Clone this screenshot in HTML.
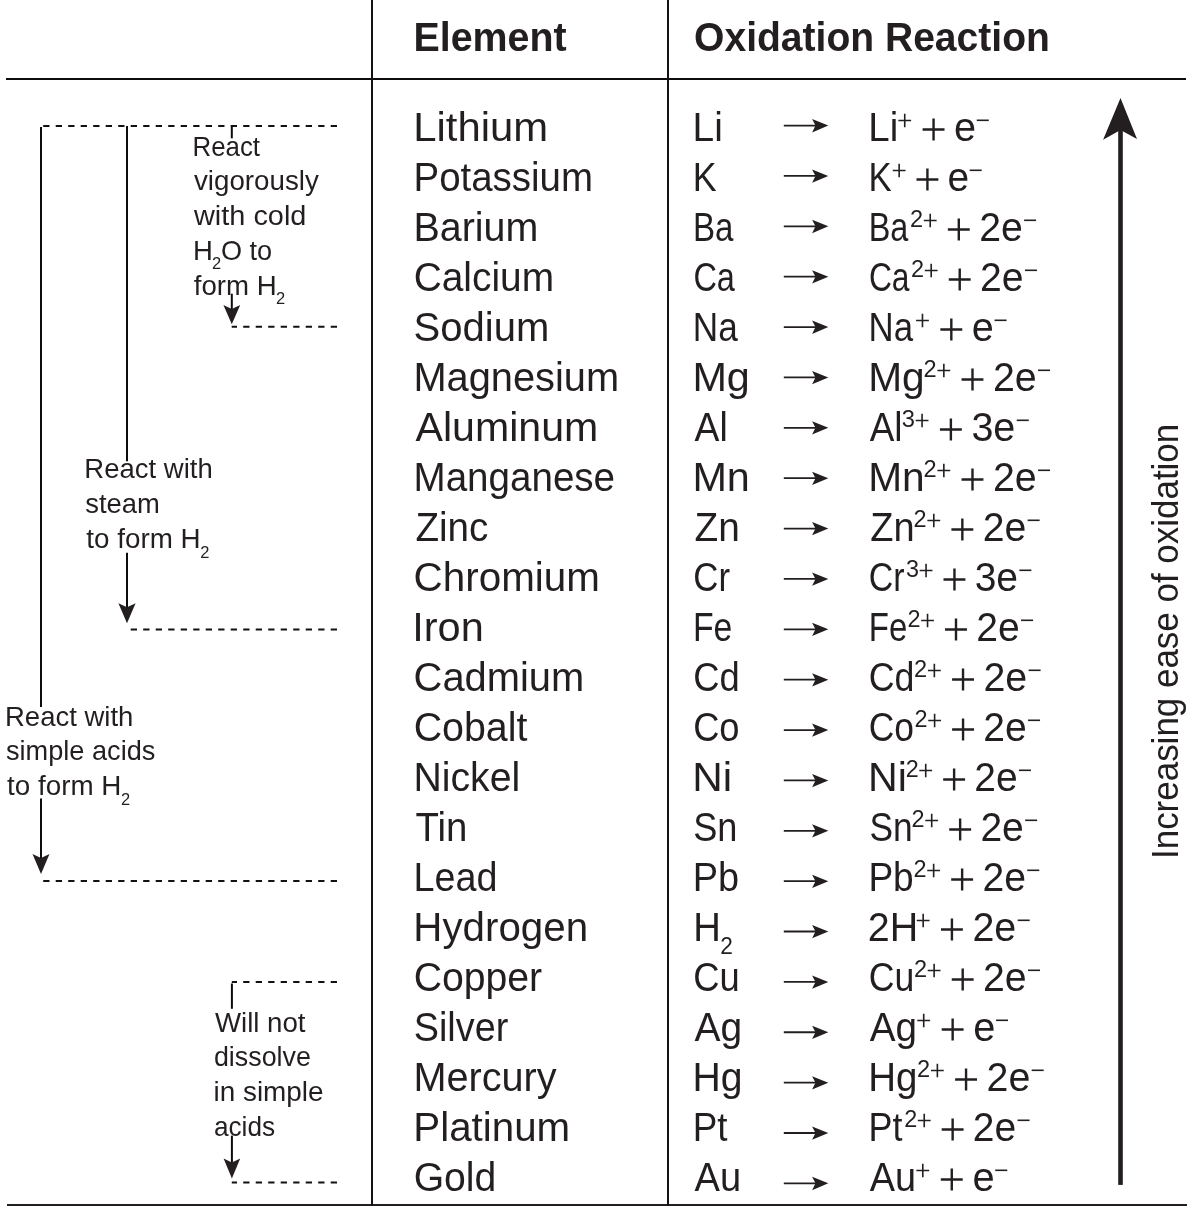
<!DOCTYPE html>
<html><head><meta charset="utf-8"><style>
html,body{margin:0;padding:0;background:#fff;width:1188px;height:1206px;overflow:hidden}
svg{display:block;will-change:transform}
text{font-family:'Liberation Sans', sans-serif;fill:#231f20}
</style></head><body>
<svg width="1188" height="1206" viewBox="0 0 1188 1206" font-size="40">
<rect x="6" y="78" width="1180" height="2" fill="#0f0c0d"/>
<rect x="7" y="1204" width="1180" height="2" fill="#231f20"/>
<rect x="371" y="0" width="2" height="1206" fill="#161213"/>
<rect x="667" y="0" width="2" height="1206" fill="#161213"/>
<text x="413.45" y="50.80" font-weight="bold" textLength="153.15" lengthAdjust="spacingAndGlyphs">Element</text>
<text x="694.05" y="51.00" font-weight="bold" textLength="355.79" lengthAdjust="spacingAndGlyphs">Oxidation Reaction</text>
<text x="413.26" y="140.70" textLength="134.82" lengthAdjust="spacingAndGlyphs">Lithium</text>
<text x="692.58" y="140.70" textLength="30.27" lengthAdjust="spacingAndGlyphs">Li</text>
<text x="868.32" y="140.70" textLength="29.94" lengthAdjust="spacingAndGlyphs">Li</text>
<path d="M898.33 120.50H911.13M904.73 113.85V127.15" stroke="#231f20" stroke-width="1.6" fill="none"/>
<path d="M922.61 129.50H944.51M933.56 118.55V140.45" stroke="#231f20" stroke-width="2.4" fill="none"/>
<text x="954.08" y="140.70" textLength="22.01" lengthAdjust="spacingAndGlyphs">e</text>
<path d="M976.77 120.30H988.77" stroke="#231f20" stroke-width="1.6" fill="none"/>
<path d="M783.8 125.60H816" stroke="#231f20" stroke-width="1.8" fill="none"/>
<path d="M828.3 125.60L812.1 119.10L815.5 125.60L812.1 132.40Z" fill="#231f20"/>
<text x="413.52" y="190.70" textLength="179.42" lengthAdjust="spacingAndGlyphs">Potassium</text>
<text x="692.81" y="190.70" textLength="23.90" lengthAdjust="spacingAndGlyphs">K</text>
<text x="868.59" y="190.70" textLength="23.19" lengthAdjust="spacingAndGlyphs">K</text>
<path d="M892.74 170.50H905.54M899.14 163.85V177.15" stroke="#231f20" stroke-width="1.6" fill="none"/>
<path d="M916.47 179.50H938.37M927.42 168.55V190.45" stroke="#231f20" stroke-width="2.4" fill="none"/>
<text x="947.55" y="190.70" textLength="21.58" lengthAdjust="spacingAndGlyphs">e</text>
<path d="M969.68 170.30H981.68" stroke="#231f20" stroke-width="1.6" fill="none"/>
<path d="M783.8 175.97H816" stroke="#231f20" stroke-width="1.8" fill="none"/>
<path d="M828.3 175.97L812.1 169.47L815.5 175.97L812.1 182.77Z" fill="#231f20"/>
<text x="413.44" y="240.70" textLength="124.82" lengthAdjust="spacingAndGlyphs">Barium</text>
<text x="693.02" y="240.70" textLength="40.43" lengthAdjust="spacingAndGlyphs">Ba</text>
<text x="868.77" y="240.70" textLength="39.63" lengthAdjust="spacingAndGlyphs">Ba</text>
<text x="910.02" y="226.90" font-size="24" textLength="13.10" lengthAdjust="spacingAndGlyphs">2</text>
<path d="M923.82 220.50H936.62M930.22 213.85V227.15" stroke="#231f20" stroke-width="1.6" fill="none"/>
<path d="M947.85 229.50H969.75M958.80 218.55V240.45" stroke="#231f20" stroke-width="2.4" fill="none"/>
<text x="979.14" y="240.70" textLength="43.63" lengthAdjust="spacingAndGlyphs">2e</text>
<path d="M1024.12 220.30H1036.12" stroke="#231f20" stroke-width="1.6" fill="none"/>
<path d="M783.8 226.34H816" stroke="#231f20" stroke-width="1.8" fill="none"/>
<path d="M828.3 226.34L812.1 219.84L815.5 226.34L812.1 233.14Z" fill="#231f20"/>
<text x="413.66" y="290.70" textLength="140.46" lengthAdjust="spacingAndGlyphs">Calcium</text>
<text x="693.38" y="290.70" textLength="41.54" lengthAdjust="spacingAndGlyphs">Ca</text>
<text x="868.91" y="290.70" textLength="40.66" lengthAdjust="spacingAndGlyphs">Ca</text>
<text x="911.02" y="276.90" font-size="24" textLength="13.08" lengthAdjust="spacingAndGlyphs">2</text>
<path d="M924.79 270.50H937.59M931.19 263.85V277.15" stroke="#231f20" stroke-width="1.6" fill="none"/>
<path d="M948.77 279.50H970.67M959.72 268.55V290.45" stroke="#231f20" stroke-width="2.4" fill="none"/>
<text x="980.03" y="290.70" textLength="43.56" lengthAdjust="spacingAndGlyphs">2e</text>
<path d="M1024.93 270.30H1036.93" stroke="#231f20" stroke-width="1.6" fill="none"/>
<path d="M783.8 276.71H816" stroke="#231f20" stroke-width="1.8" fill="none"/>
<path d="M828.3 276.71L812.1 270.21L815.5 276.71L812.1 283.51Z" fill="#231f20"/>
<text x="413.60" y="340.70">Sodium</text>
<text x="692.86" y="340.70" textLength="44.96" lengthAdjust="spacingAndGlyphs">Na</text>
<text x="868.59" y="340.70" textLength="44.50" lengthAdjust="spacingAndGlyphs">Na</text>
<path d="M916.07 320.50H928.87M922.47 313.85V327.15" stroke="#231f20" stroke-width="1.6" fill="none"/>
<path d="M940.37 329.50H962.27M951.32 318.55V340.45" stroke="#231f20" stroke-width="2.4" fill="none"/>
<text x="971.86" y="340.70" textLength="22.02" lengthAdjust="spacingAndGlyphs">e</text>
<path d="M994.56 320.30H1006.56" stroke="#231f20" stroke-width="1.6" fill="none"/>
<path d="M783.8 327.08H816" stroke="#231f20" stroke-width="1.8" fill="none"/>
<path d="M828.3 327.08L812.1 320.58L815.5 327.08L812.1 333.88Z" fill="#231f20"/>
<text x="413.41" y="390.70" textLength="205.74" lengthAdjust="spacingAndGlyphs">Magnesium</text>
<text x="692.40" y="390.70" textLength="57.47" lengthAdjust="spacingAndGlyphs">Mg</text>
<text x="868.15" y="390.70" textLength="56.49" lengthAdjust="spacingAndGlyphs">Mg</text>
<text x="923.59" y="376.90" font-size="24" textLength="13.13" lengthAdjust="spacingAndGlyphs">2</text>
<path d="M937.44 370.50H950.24M943.84 363.85V377.15" stroke="#231f20" stroke-width="1.6" fill="none"/>
<path d="M961.54 379.50H983.44M972.49 368.55V390.45" stroke="#231f20" stroke-width="2.4" fill="none"/>
<text x="992.89" y="390.70" textLength="43.74" lengthAdjust="spacingAndGlyphs">2e</text>
<path d="M1038.00 370.30H1050.00" stroke="#231f20" stroke-width="1.6" fill="none"/>
<path d="M783.8 377.45H816" stroke="#231f20" stroke-width="1.8" fill="none"/>
<path d="M828.3 377.45L812.1 370.95L815.5 377.45L812.1 384.25Z" fill="#231f20"/>
<text x="415.60" y="440.70" textLength="182.62" lengthAdjust="spacingAndGlyphs">Aluminum</text>
<text x="694.50" y="440.70" textLength="33.21" lengthAdjust="spacingAndGlyphs">Al</text>
<text x="869.70" y="440.70" textLength="32.81" lengthAdjust="spacingAndGlyphs">Al</text>
<text x="901.72" y="426.90" font-size="24" textLength="13.20" lengthAdjust="spacingAndGlyphs">3</text>
<path d="M915.67 420.50H928.47M922.07 413.85V427.15" stroke="#231f20" stroke-width="1.6" fill="none"/>
<path d="M939.93 429.50H961.83M950.88 418.55V440.45" stroke="#231f20" stroke-width="2.4" fill="none"/>
<text x="971.38" y="440.70" textLength="43.97" lengthAdjust="spacingAndGlyphs">3e</text>
<path d="M1016.77 420.30H1028.77" stroke="#231f20" stroke-width="1.6" fill="none"/>
<path d="M783.8 427.82H816" stroke="#231f20" stroke-width="1.8" fill="none"/>
<path d="M828.3 427.82L812.1 421.32L815.5 427.82L812.1 434.62Z" fill="#231f20"/>
<text x="413.51" y="490.70" textLength="201.57" lengthAdjust="spacingAndGlyphs">Manganese</text>
<text x="692.40" y="490.70" textLength="57.47" lengthAdjust="spacingAndGlyphs">Mn</text>
<text x="868.15" y="490.70" textLength="56.49" lengthAdjust="spacingAndGlyphs">Mn</text>
<text x="923.59" y="476.90" font-size="24" textLength="13.13" lengthAdjust="spacingAndGlyphs">2</text>
<path d="M937.44 470.50H950.24M943.84 463.85V477.15" stroke="#231f20" stroke-width="1.6" fill="none"/>
<path d="M961.54 479.50H983.44M972.49 468.55V490.45" stroke="#231f20" stroke-width="2.4" fill="none"/>
<text x="992.89" y="490.70" textLength="43.74" lengthAdjust="spacingAndGlyphs">2e</text>
<path d="M1038.00 470.30H1050.00" stroke="#231f20" stroke-width="1.6" fill="none"/>
<path d="M783.8 478.19H816" stroke="#231f20" stroke-width="1.8" fill="none"/>
<path d="M828.3 478.19L812.1 471.69L815.5 478.19L812.1 484.99Z" fill="#231f20"/>
<text x="415.44" y="540.70" textLength="72.89" lengthAdjust="spacingAndGlyphs">Zinc</text>
<text x="694.53" y="540.70" textLength="45.28" lengthAdjust="spacingAndGlyphs">Zn</text>
<text x="870.25" y="540.70" textLength="44.35" lengthAdjust="spacingAndGlyphs">Zn</text>
<text x="913.62" y="526.90" font-size="24" textLength="13.09" lengthAdjust="spacingAndGlyphs">2</text>
<path d="M927.40 520.50H940.20M933.80 513.85V527.15" stroke="#231f20" stroke-width="1.6" fill="none"/>
<path d="M951.40 529.50H973.30M962.35 518.55V540.45" stroke="#231f20" stroke-width="2.4" fill="none"/>
<text x="982.68" y="540.70" textLength="43.59" lengthAdjust="spacingAndGlyphs">2e</text>
<path d="M1027.62 520.30H1039.62" stroke="#231f20" stroke-width="1.6" fill="none"/>
<path d="M783.8 528.56H816" stroke="#231f20" stroke-width="1.8" fill="none"/>
<path d="M828.3 528.56L812.1 522.06L815.5 528.56L812.1 535.36Z" fill="#231f20"/>
<text x="413.58" y="590.70" textLength="186.33" lengthAdjust="spacingAndGlyphs">Chromium</text>
<text x="693.26" y="590.70" textLength="36.73" lengthAdjust="spacingAndGlyphs">Cr</text>
<text x="868.80" y="590.70" textLength="35.79" lengthAdjust="spacingAndGlyphs">Cr</text>
<text x="905.97" y="576.90" font-size="24" textLength="13.02" lengthAdjust="spacingAndGlyphs">3</text>
<path d="M919.65 570.50H932.45M926.05 563.85V577.15" stroke="#231f20" stroke-width="1.6" fill="none"/>
<path d="M943.51 579.50H965.41M954.46 568.55V590.45" stroke="#231f20" stroke-width="2.4" fill="none"/>
<text x="974.68" y="590.70" textLength="43.37" lengthAdjust="spacingAndGlyphs">3e</text>
<path d="M1019.35 570.30H1031.35" stroke="#231f20" stroke-width="1.6" fill="none"/>
<path d="M783.8 578.93H816" stroke="#231f20" stroke-width="1.8" fill="none"/>
<path d="M828.3 578.93L812.1 572.43L815.5 578.93L812.1 585.73Z" fill="#231f20"/>
<text x="412.25" y="640.70" textLength="71.49" lengthAdjust="spacingAndGlyphs">Iron</text>
<text x="692.96" y="640.70" textLength="39.46" lengthAdjust="spacingAndGlyphs">Fe</text>
<text x="868.72" y="640.70" textLength="38.53" lengthAdjust="spacingAndGlyphs">Fe</text>
<text x="907.43" y="626.90" font-size="24" textLength="13.04" lengthAdjust="spacingAndGlyphs">2</text>
<path d="M921.14 620.50H933.94M927.54 613.85V627.15" stroke="#231f20" stroke-width="1.6" fill="none"/>
<path d="M945.05 629.50H966.95M956.00 618.55V640.45" stroke="#231f20" stroke-width="2.4" fill="none"/>
<text x="976.27" y="640.70" textLength="43.45" lengthAdjust="spacingAndGlyphs">2e</text>
<path d="M1021.04 620.30H1033.04" stroke="#231f20" stroke-width="1.6" fill="none"/>
<path d="M783.8 629.30H816" stroke="#231f20" stroke-width="1.8" fill="none"/>
<path d="M828.3 629.30L812.1 622.80L815.5 629.30L812.1 636.10Z" fill="#231f20"/>
<text x="413.61" y="690.70" textLength="170.64" lengthAdjust="spacingAndGlyphs">Cadmium</text>
<text x="693.18" y="690.70" textLength="46.46" lengthAdjust="spacingAndGlyphs">Cd</text>
<text x="868.71" y="690.70" textLength="45.71" lengthAdjust="spacingAndGlyphs">Cd</text>
<text x="914.08" y="676.90" font-size="24" textLength="13.14" lengthAdjust="spacingAndGlyphs">2</text>
<path d="M927.95 670.50H940.75M934.35 663.85V677.15" stroke="#231f20" stroke-width="1.6" fill="none"/>
<path d="M952.08 679.50H973.98M963.03 668.55V690.45" stroke="#231f20" stroke-width="2.4" fill="none"/>
<text x="983.44" y="690.70" textLength="43.78" lengthAdjust="spacingAndGlyphs">2e</text>
<path d="M1028.60 670.30H1040.60" stroke="#231f20" stroke-width="1.6" fill="none"/>
<path d="M783.8 679.67H816" stroke="#231f20" stroke-width="1.8" fill="none"/>
<path d="M828.3 679.67L812.1 673.17L815.5 679.67L812.1 686.47Z" fill="#231f20"/>
<text x="413.63" y="740.70" textLength="113.68" lengthAdjust="spacingAndGlyphs">Cobalt</text>
<text x="693.19" y="740.70" textLength="46.35" lengthAdjust="spacingAndGlyphs">Co</text>
<text x="868.73" y="740.70" textLength="45.22" lengthAdjust="spacingAndGlyphs">Co</text>
<text x="914.51" y="726.90" font-size="24" textLength="13.04" lengthAdjust="spacingAndGlyphs">2</text>
<path d="M928.21 720.50H941.01M934.61 713.85V727.15" stroke="#231f20" stroke-width="1.6" fill="none"/>
<path d="M952.11 729.50H974.01M963.06 718.55V740.45" stroke="#231f20" stroke-width="2.4" fill="none"/>
<text x="983.30" y="740.70" textLength="43.42" lengthAdjust="spacingAndGlyphs">2e</text>
<path d="M1028.05 720.30H1040.05" stroke="#231f20" stroke-width="1.6" fill="none"/>
<path d="M783.8 730.04H816" stroke="#231f20" stroke-width="1.8" fill="none"/>
<path d="M828.3 730.04L812.1 723.54L815.5 730.04L812.1 736.84Z" fill="#231f20"/>
<text x="413.46" y="790.70" textLength="106.79" lengthAdjust="spacingAndGlyphs">Nickel</text>
<text x="692.33" y="790.70" textLength="39.91" lengthAdjust="spacingAndGlyphs">Ni</text>
<text x="868.11" y="790.70" textLength="38.86" lengthAdjust="spacingAndGlyphs">Ni</text>
<text x="905.67" y="776.90" font-size="24" textLength="13.01" lengthAdjust="spacingAndGlyphs">2</text>
<path d="M919.33 770.50H932.13M925.73 763.85V777.15" stroke="#231f20" stroke-width="1.6" fill="none"/>
<path d="M943.17 779.50H965.07M954.12 768.55V790.45" stroke="#231f20" stroke-width="2.4" fill="none"/>
<text x="974.32" y="790.70" textLength="43.33" lengthAdjust="spacingAndGlyphs">2e</text>
<path d="M1018.96 770.30H1030.96" stroke="#231f20" stroke-width="1.6" fill="none"/>
<path d="M783.8 780.41H816" stroke="#231f20" stroke-width="1.8" fill="none"/>
<path d="M828.3 780.41L812.1 773.91L815.5 780.41L812.1 787.21Z" fill="#231f20"/>
<text x="415.44" y="840.70" textLength="51.93" lengthAdjust="spacingAndGlyphs">Tin</text>
<text x="693.19" y="840.70" textLength="44.27" lengthAdjust="spacingAndGlyphs">Sn</text>
<text x="869.43" y="840.70" textLength="43.20" lengthAdjust="spacingAndGlyphs">Sn</text>
<text x="911.60" y="826.90" font-size="24" textLength="13.04" lengthAdjust="spacingAndGlyphs">2</text>
<path d="M925.30 820.50H938.10M931.70 813.85V827.15" stroke="#231f20" stroke-width="1.6" fill="none"/>
<path d="M949.20 829.50H971.10M960.15 818.55V840.45" stroke="#231f20" stroke-width="2.4" fill="none"/>
<text x="980.40" y="840.70" textLength="43.43" lengthAdjust="spacingAndGlyphs">2e</text>
<path d="M1025.14 820.30H1037.14" stroke="#231f20" stroke-width="1.6" fill="none"/>
<path d="M783.8 830.78H816" stroke="#231f20" stroke-width="1.8" fill="none"/>
<path d="M828.3 830.78L812.1 824.28L815.5 830.78L812.1 837.58Z" fill="#231f20"/>
<text x="413.57" y="890.70" textLength="83.95" lengthAdjust="spacingAndGlyphs">Lead</text>
<text x="692.66" y="890.70" textLength="46.38" lengthAdjust="spacingAndGlyphs">Pb</text>
<text x="868.42" y="890.70" textLength="45.33" lengthAdjust="spacingAndGlyphs">Pb</text>
<text x="913.52" y="876.90" font-size="24" textLength="13.06" lengthAdjust="spacingAndGlyphs">2</text>
<path d="M927.25 870.50H940.05M933.65 863.85V877.15" stroke="#231f20" stroke-width="1.6" fill="none"/>
<path d="M951.19 879.50H973.09M962.14 868.55V890.45" stroke="#231f20" stroke-width="2.4" fill="none"/>
<text x="982.42" y="890.70" textLength="43.49" lengthAdjust="spacingAndGlyphs">2e</text>
<path d="M1027.24 870.30H1039.24" stroke="#231f20" stroke-width="1.6" fill="none"/>
<path d="M783.8 881.15H816" stroke="#231f20" stroke-width="1.8" fill="none"/>
<path d="M828.3 881.15L812.1 874.65L815.5 881.15L812.1 887.95Z" fill="#231f20"/>
<text x="413.38" y="940.70" textLength="174.68" lengthAdjust="spacingAndGlyphs">Hydrogen</text>
<text x="693.13" y="940.70" textLength="27.63" lengthAdjust="spacingAndGlyphs">H</text>
<text x="720.35" y="954.00" font-size="24" textLength="12.63" lengthAdjust="spacingAndGlyphs">2</text>
<text x="867.73" y="940.70" textLength="50.45" lengthAdjust="spacingAndGlyphs">2H</text>
<path d="M916.76 920.50H929.56M923.16 913.85V927.15" stroke="#231f20" stroke-width="1.6" fill="none"/>
<path d="M940.97 929.50H962.87M951.92 918.55V940.45" stroke="#231f20" stroke-width="2.4" fill="none"/>
<text x="972.39" y="940.70" textLength="43.90" lengthAdjust="spacingAndGlyphs">2e</text>
<path d="M1017.68 920.30H1029.68" stroke="#231f20" stroke-width="1.6" fill="none"/>
<path d="M783.8 931.52H816" stroke="#231f20" stroke-width="1.8" fill="none"/>
<path d="M828.3 931.52L812.1 925.02L815.5 931.52L812.1 938.32Z" fill="#231f20"/>
<text x="413.64" y="990.70" textLength="128.54" lengthAdjust="spacingAndGlyphs">Copper</text>
<text x="693.18" y="990.70" textLength="46.46" lengthAdjust="spacingAndGlyphs">Cu</text>
<text x="868.72" y="990.70" textLength="45.55" lengthAdjust="spacingAndGlyphs">Cu</text>
<text x="913.93" y="976.90" font-size="24" textLength="13.10" lengthAdjust="spacingAndGlyphs">2</text>
<path d="M927.72 970.50H940.52M934.12 963.85V977.15" stroke="#231f20" stroke-width="1.6" fill="none"/>
<path d="M951.75 979.50H973.65M962.70 968.55V990.45" stroke="#231f20" stroke-width="2.4" fill="none"/>
<text x="983.04" y="990.70" textLength="43.62" lengthAdjust="spacingAndGlyphs">2e</text>
<path d="M1028.02 970.30H1040.02" stroke="#231f20" stroke-width="1.6" fill="none"/>
<path d="M783.8 981.89H816" stroke="#231f20" stroke-width="1.8" fill="none"/>
<path d="M828.3 981.89L812.1 975.39L815.5 981.89L812.1 988.69Z" fill="#231f20"/>
<text x="413.71" y="1040.70" textLength="94.57" lengthAdjust="spacingAndGlyphs">Silver</text>
<text x="694.50" y="1040.70" textLength="47.66" lengthAdjust="spacingAndGlyphs">Ag</text>
<text x="869.70" y="1040.70" textLength="47.32" lengthAdjust="spacingAndGlyphs">Ag</text>
<path d="M917.31 1020.50H930.11M923.71 1013.85V1027.15" stroke="#231f20" stroke-width="1.6" fill="none"/>
<path d="M941.70 1029.50H963.60M952.65 1018.55V1040.45" stroke="#231f20" stroke-width="2.4" fill="none"/>
<text x="973.25" y="1040.70" textLength="22.09" lengthAdjust="spacingAndGlyphs">e</text>
<path d="M996.04 1020.30H1008.04" stroke="#231f20" stroke-width="1.6" fill="none"/>
<path d="M783.8 1032.26H816" stroke="#231f20" stroke-width="1.8" fill="none"/>
<path d="M828.3 1032.26L812.1 1025.76L815.5 1032.26L812.1 1039.06Z" fill="#231f20"/>
<text x="413.43" y="1090.70" textLength="143.22" lengthAdjust="spacingAndGlyphs">Mercury</text>
<text x="692.57" y="1090.70" textLength="50.03" lengthAdjust="spacingAndGlyphs">Hg</text>
<text x="868.31" y="1090.70" textLength="49.26" lengthAdjust="spacingAndGlyphs">Hg</text>
<text x="917.08" y="1076.90" font-size="24" textLength="13.15" lengthAdjust="spacingAndGlyphs">2</text>
<path d="M930.96 1070.50H943.76M937.36 1063.85V1077.15" stroke="#231f20" stroke-width="1.6" fill="none"/>
<path d="M955.11 1079.50H977.01M966.06 1068.55V1090.45" stroke="#231f20" stroke-width="2.4" fill="none"/>
<text x="986.49" y="1090.70" textLength="43.81" lengthAdjust="spacingAndGlyphs">2e</text>
<path d="M1031.69 1070.30H1043.69" stroke="#231f20" stroke-width="1.6" fill="none"/>
<path d="M783.8 1082.63H816" stroke="#231f20" stroke-width="1.8" fill="none"/>
<path d="M828.3 1082.63L812.1 1076.13L815.5 1082.63L812.1 1089.43Z" fill="#231f20"/>
<text x="413.38" y="1140.70" textLength="156.77" lengthAdjust="spacingAndGlyphs">Platinum</text>
<text x="692.74" y="1140.70" textLength="34.77" lengthAdjust="spacingAndGlyphs">Pt</text>
<text x="868.51" y="1140.70" textLength="33.89" lengthAdjust="spacingAndGlyphs">Pt</text>
<text x="904.15" y="1126.90" font-size="24" textLength="13.02" lengthAdjust="spacingAndGlyphs">2</text>
<path d="M917.83 1120.50H930.63M924.23 1113.85V1127.15" stroke="#231f20" stroke-width="1.6" fill="none"/>
<path d="M941.69 1129.50H963.59M952.64 1118.55V1140.45" stroke="#231f20" stroke-width="2.4" fill="none"/>
<text x="972.87" y="1140.70" textLength="43.38" lengthAdjust="spacingAndGlyphs">2e</text>
<path d="M1017.55 1120.30H1029.55" stroke="#231f20" stroke-width="1.6" fill="none"/>
<path d="M783.8 1133.00H816" stroke="#231f20" stroke-width="1.8" fill="none"/>
<path d="M828.3 1133.00L812.1 1126.50L815.5 1133.00L812.1 1139.80Z" fill="#231f20"/>
<text x="413.64" y="1190.70" textLength="82.70" lengthAdjust="spacingAndGlyphs">Gold</text>
<text x="694.50" y="1190.70" textLength="46.60" lengthAdjust="spacingAndGlyphs">Au</text>
<text x="869.70" y="1190.70" textLength="46.33" lengthAdjust="spacingAndGlyphs">Au</text>
<path d="M916.39 1170.50H929.19M922.79 1163.85V1177.15" stroke="#231f20" stroke-width="1.6" fill="none"/>
<path d="M940.82 1179.50H962.72M951.77 1168.55V1190.45" stroke="#231f20" stroke-width="2.4" fill="none"/>
<text x="972.40" y="1190.70" textLength="22.12" lengthAdjust="spacingAndGlyphs">e</text>
<path d="M995.23 1170.30H1007.23" stroke="#231f20" stroke-width="1.6" fill="none"/>
<path d="M783.8 1183.37H816" stroke="#231f20" stroke-width="1.8" fill="none"/>
<path d="M828.3 1183.37L812.1 1176.87L815.5 1183.37L812.1 1190.17Z" fill="#231f20"/>
<text x="192.52" y="155.50" font-size="27.5" textLength="67.53" lengthAdjust="spacingAndGlyphs">React</text>
<text x="194.00" y="190.10" font-size="27.5" textLength="124.81" lengthAdjust="spacingAndGlyphs">vigorously</text>
<text x="194.00" y="224.90" font-size="27.5" textLength="112.40" lengthAdjust="spacingAndGlyphs">with cold</text>
<text x="193.00" y="259.90" font-size="27.5">H</text>
<text x="211.90" y="269.30" font-size="16.5">2</text>
<text x="221.02" y="259.90" font-size="27.5" textLength="51.14" lengthAdjust="spacingAndGlyphs">O to</text>
<text x="193.80" y="294.80" font-size="27.5" textLength="82.91" lengthAdjust="spacingAndGlyphs">form H</text>
<text x="276.10" y="304.20" font-size="16.5">2</text>
<text x="84.30" y="477.80" font-size="27.5">React with</text>
<text x="85.30" y="513.00" font-size="27.5" textLength="74.58" lengthAdjust="spacingAndGlyphs">steam</text>
<text x="86.30" y="548.10" font-size="27.5" textLength="114.30" lengthAdjust="spacingAndGlyphs">to form H</text>
<text x="200.20" y="557.50" font-size="16.5">2</text>
<text x="5.00" y="725.60" font-size="27.5">React with</text>
<text x="6.01" y="760.40" font-size="27.5" textLength="149.38" lengthAdjust="spacingAndGlyphs">simple acids</text>
<text x="7.00" y="795.30" font-size="27.5" textLength="114.40" lengthAdjust="spacingAndGlyphs">to form H</text>
<text x="120.90" y="804.70" font-size="16.5">2</text>
<text x="214.90" y="1031.70" font-size="27.5" textLength="90.66" lengthAdjust="spacingAndGlyphs">Will not</text>
<text x="213.92" y="1066.00" font-size="27.5" textLength="97.00" lengthAdjust="spacingAndGlyphs">dissolve</text>
<text x="213.47" y="1101.30" font-size="27.5" textLength="110.07" lengthAdjust="spacingAndGlyphs">in simple</text>
<text x="213.95" y="1135.60" font-size="27.5" textLength="61.20" lengthAdjust="spacingAndGlyphs">acids</text>
<path d="M337 126H43" stroke="#141011" stroke-width="2" stroke-dasharray="6.3 6.2" fill="none"/>
<path d="M337 326.8H231.7" stroke="#141011" stroke-width="2" stroke-dasharray="6.3 6.2" fill="none"/>
<path d="M337 629.6H130.6" stroke="#141011" stroke-width="2" stroke-dasharray="6.3 6.2" fill="none"/>
<path d="M337 881.1H43" stroke="#141011" stroke-width="2" stroke-dasharray="6.3 6.2" fill="none"/>
<path d="M337 982H231.8" stroke="#141011" stroke-width="2" stroke-dasharray="6.3 6.2" fill="none"/>
<path d="M337 1182.6H231.8" stroke="#141011" stroke-width="2" stroke-dasharray="6.3 6.2" fill="none"/>
<path d="M231.8 126V138.3" stroke="#0f0b0c" stroke-width="2" fill="none"/>
<path d="M231.8 293.7V318.2" stroke="#0f0b0c" stroke-width="2" fill="none"/>
<path d="M231.8 324.2L223.4 305L231.8 309L240.20000000000002 305Z" fill="#231f20"/>
<path d="M127.0 126V461.2" stroke="#0f0b0c" stroke-width="2" fill="none"/>
<path d="M127.0 552.8V617.3" stroke="#0f0b0c" stroke-width="2" fill="none"/>
<path d="M127.0 623.3L118.4 603.3L127.0 607.3L135.6 603.3Z" fill="#231f20"/>
<path d="M41.0 127V707" stroke="#0f0b0c" stroke-width="2" fill="none"/>
<path d="M41.0 798.4V868.0" stroke="#0f0b0c" stroke-width="2" fill="none"/>
<path d="M41.0 874.0L32.5 854.1L41.0 858.1L49.5 854.1Z" fill="#231f20"/>
<path d="M231.9 983.5V1008.8" stroke="#0f0b0c" stroke-width="2" fill="none"/>
<path d="M231.9 1135.6V1172.5" stroke="#0f0b0c" stroke-width="2" fill="none"/>
<path d="M231.9 1178.5L223.6 1158.4L231.9 1162.4L240.20000000000002 1158.4Z" fill="#231f20"/>
<rect x="1118.2" y="125" width="4.6" height="1059.9" fill="#231f20"/>
<path d="M1120.5 98.1L1103.1 139.7L1120.5 130.1L1137 139.1Z" fill="#231f20"/>
<text transform="translate(1178.4 856.1) rotate(-90)" x="-2.91" y="0" font-size="36" textLength="435.24" lengthAdjust="spacingAndGlyphs">Increasing ease of oxidation</text>
</svg>
</body></html>
